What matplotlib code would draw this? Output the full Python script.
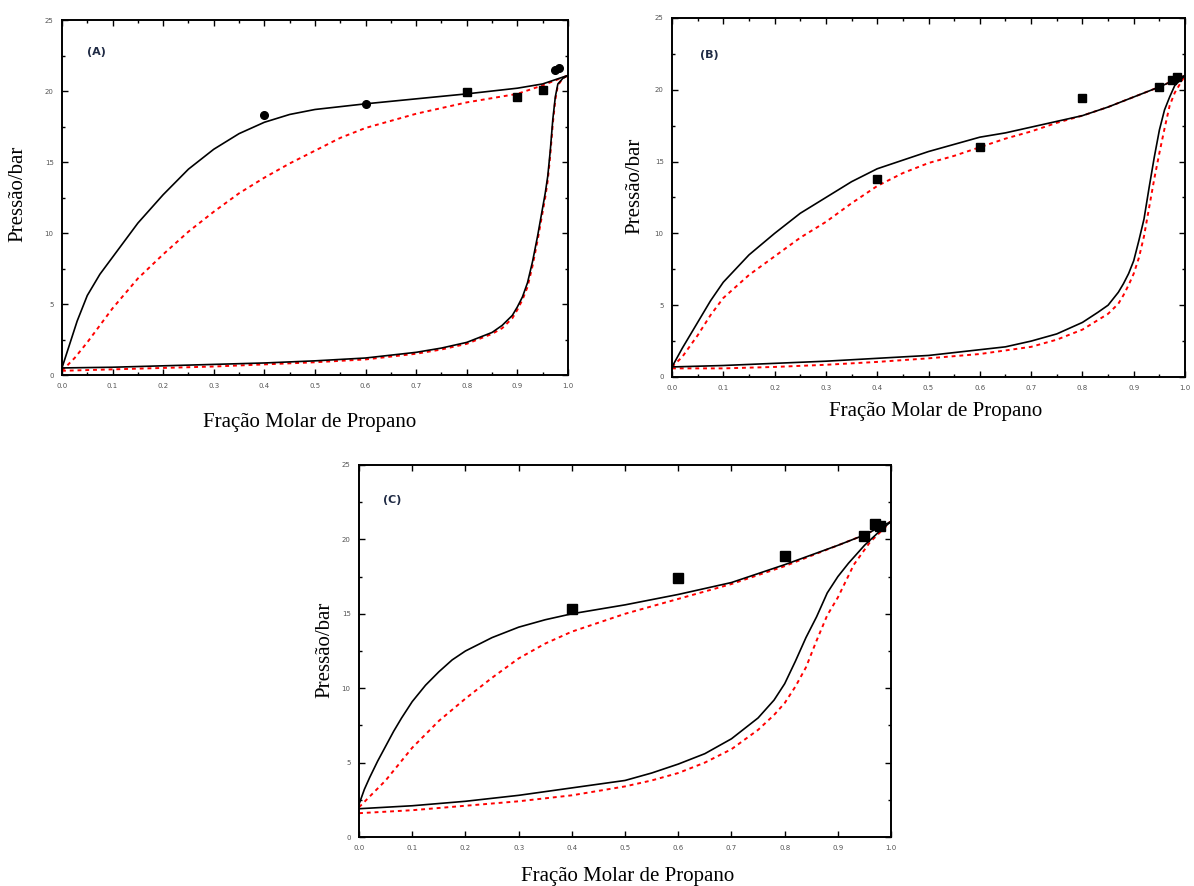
"""Diagramas P-x-y propano: tres paineis (A), (B), (C)"""

import matplotlib.pyplot as plt
import matplotlib.ticker as ticker

# ---------------- dados ----------------
# painel A
a_bub_x = [0, 0.01, 0.02, 0.03, 0.05, 0.075, 0.1, 0.15, 0.2, 0.25, 0.3, 0.35, 0.4, 0.45, 0.5, 0.6, 0.7, 0.8, 0.9, 0.95, 1.0]
a_bub_y = [0.5, 1.6, 2.7, 3.8, 5.6, 7.1, 8.3, 10.7, 12.7, 14.5, 15.9, 17.0, 17.8, 18.35, 18.7, 19.1, 19.45, 19.8, 20.2, 20.5, 21.1]
a_bub_red_x = [0, 0.025, 0.05, 0.1, 0.15, 0.2, 0.25, 0.3, 0.35, 0.4, 0.45, 0.5, 0.55, 0.6, 0.65, 0.7, 0.8, 0.9, 0.95, 1.0]
a_bub_red_y = [0.3, 1.2, 2.3, 4.7, 6.8, 8.5, 10.1, 11.5, 12.8, 13.9, 14.9, 15.8, 16.7, 17.4, 17.9, 18.4, 19.2, 19.8, 20.4, 21.1]
a_dew_x = [0, 0.1, 0.2, 0.3, 0.4, 0.5, 0.6, 0.7, 0.75, 0.8, 0.85, 0.87, 0.89, 0.9, 0.91, 0.92, 0.93, 0.94, 0.95, 0.955, 0.96, 0.965, 0.97, 0.975, 0.98, 0.99, 1.0]
a_dew_y = [0.5, 0.55, 0.65, 0.75, 0.85, 1.0, 1.2, 1.6, 1.9, 2.3, 3.0, 3.5, 4.2, 4.8, 5.5, 6.5, 8.0, 9.8, 11.8, 12.8, 14.0, 15.8, 18.0, 19.6, 20.5, 20.9, 21.1]
a_dew_red_x = [0, 0.1, 0.2, 0.3, 0.4, 0.5, 0.6, 0.7, 0.75, 0.8, 0.85, 0.87, 0.89, 0.9, 0.91, 0.92, 0.93, 0.94, 0.95, 0.955, 0.96, 0.965, 0.97, 0.975, 0.98, 0.99, 1.0]
a_dew_red_y = [0.3, 0.4, 0.5, 0.6, 0.75, 0.9, 1.1, 1.5, 1.8, 2.2, 2.9, 3.3, 4.0, 4.6, 5.3, 6.2, 7.7, 9.5, 11.5, 12.5, 13.7, 15.5, 17.7, 19.4, 20.4, 20.9, 21.1]
a_circ_x = [0.4, 0.6, 0.975, 0.982]
a_circ_y = [18.3, 19.1, 21.5, 21.6]
a_sq_x = [0.8, 0.9, 0.95]
a_sq_y = [19.9, 19.6, 20.1]

# painel B
b_bub_x = [0, 0.02, 0.05, 0.075, 0.1, 0.15, 0.2, 0.25, 0.3, 0.35, 0.4, 0.45, 0.5, 0.55, 0.6, 0.65, 0.7, 0.75, 0.8, 0.85, 0.9, 0.95, 1.0]
b_bub_y = [0.7, 2.0, 3.8, 5.3, 6.6, 8.5, 10.0, 11.4, 12.5, 13.6, 14.5, 15.1, 15.7, 16.2, 16.7, 17.0, 17.4, 17.8, 18.2, 18.8, 19.5, 20.2, 21.0]
b_bub_red_x = [0, 0.02, 0.05, 0.075, 0.1, 0.15, 0.2, 0.25, 0.3, 0.35, 0.4, 0.45, 0.5, 0.55, 0.6, 0.65, 0.7, 0.75, 0.8, 0.85, 0.9, 0.95, 1.0]
b_bub_red_y = [0.7, 1.4, 2.9, 4.3, 5.5, 7.1, 8.4, 9.7, 10.8, 12.1, 13.3, 14.2, 14.9, 15.4, 16.0, 16.6, 17.1, 17.7, 18.2, 18.8, 19.5, 20.2, 21.0]
b_dew_x = [0, 0.1, 0.2, 0.3, 0.4, 0.5, 0.6, 0.65, 0.7, 0.75, 0.8, 0.83, 0.85, 0.87, 0.88, 0.89, 0.9, 0.91, 0.92, 0.93, 0.94, 0.95, 0.96, 0.97, 0.98, 1.0]
b_dew_y = [0.7, 0.8, 0.95, 1.1, 1.3, 1.5, 1.9, 2.1, 2.5, 3.0, 3.8, 4.5, 5.0, 5.9, 6.5, 7.2, 8.1, 9.5, 11.0, 13.2, 15.3, 17.2, 18.6, 19.5, 20.3, 21.0]
b_dew_red_x = [0, 0.1, 0.2, 0.3, 0.4, 0.5, 0.6, 0.7, 0.75, 0.8, 0.85, 0.87, 0.88, 0.89, 0.9, 0.91, 0.92, 0.93, 0.94, 0.95, 0.96, 0.97, 0.98, 1.0]
b_dew_red_y = [0.6, 0.6, 0.7, 0.85, 1.05, 1.3, 1.6, 2.1, 2.6, 3.3, 4.4, 5.1, 5.7, 6.4, 7.2, 8.3, 9.8, 11.8, 13.8, 15.6, 17.3, 18.9, 19.8, 21.0]
b_sq_x = [0.4, 0.6, 0.8, 0.95, 0.975, 0.985]
b_sq_y = [13.8, 16.0, 19.4, 20.2, 20.7, 20.9]

# painel C
c_bub_x = [0, 0.01, 0.02, 0.035, 0.05, 0.065, 0.08, 0.1, 0.125, 0.15, 0.175, 0.2, 0.25, 0.3, 0.35, 0.4, 0.5, 0.6, 0.7, 0.8, 0.9, 0.95, 1.0]
c_bub_y = [2.2, 3.2, 4.0, 5.1, 6.1, 7.1, 8.0, 9.1, 10.2, 11.1, 11.9, 12.5, 13.4, 14.1, 14.6, 15.0, 15.6, 16.3, 17.1, 18.3, 19.6, 20.3, 21.2]
c_bub_red_x = [0, 0.025, 0.05, 0.075, 0.1, 0.15, 0.2, 0.25, 0.3, 0.35, 0.4, 0.45, 0.5, 0.6, 0.7, 0.8, 0.9, 0.95, 1.0]
c_bub_red_y = [2.0, 2.9, 3.8, 4.9, 6.0, 7.8, 9.3, 10.7, 12.0, 13.0, 13.8, 14.4, 15.0, 16.0, 17.0, 18.2, 19.6, 20.3, 21.2]
c_dew_x = [0, 0.1, 0.2, 0.3, 0.4, 0.5, 0.55, 0.6, 0.65, 0.7, 0.75, 0.78, 0.8, 0.82, 0.84, 0.86, 0.88, 0.9, 0.92, 0.95, 0.98, 1.0]
c_dew_y = [1.9, 2.1, 2.4, 2.8, 3.3, 3.8, 4.3, 4.9, 5.6, 6.6, 8.0, 9.2, 10.3, 11.8, 13.4, 14.8, 16.4, 17.5, 18.4, 19.6, 20.6, 21.2]
c_dew_red_x = [0, 0.1, 0.2, 0.3, 0.4, 0.5, 0.55, 0.6, 0.65, 0.7, 0.75, 0.78, 0.8, 0.82, 0.84, 0.86, 0.88, 0.9, 0.93, 0.96, 0.98, 1.0]
c_dew_red_y = [1.6, 1.8, 2.1, 2.4, 2.8, 3.4, 3.8, 4.3, 5.0, 5.9, 7.2, 8.2, 9.0, 10.1, 11.4, 13.2, 14.9, 16.1, 18.3, 19.8, 20.5, 21.2]
c_sq_x = [0.4, 0.6, 0.8, 0.95, 0.97, 0.98]
c_sq_y = [15.3, 17.4, 18.9, 20.2, 21.0, 20.9]

XLABEL = "Fração Molar de Propano"
YLABEL = "Pressão/bar"


def style_axes(ax, minor_x=True):
    ax.set_xlim(0, 1)
    ax.set_ylim(0, 25)
    ax.xaxis.set_major_locator(ticker.MultipleLocator(0.1))
    if minor_x:
        ax.xaxis.set_minor_locator(ticker.MultipleLocator(0.05))
    ax.yaxis.set_major_locator(ticker.MultipleLocator(5))
    ax.yaxis.set_minor_locator(ticker.MultipleLocator(2.5))
    ax.xaxis.set_major_formatter(ticker.FormatStrFormatter("%.1f"))
    ax.yaxis.set_major_formatter(ticker.FormatStrFormatter("%d"))
    ax.tick_params(which="both", direction="in", top=True, right=True,
                   labelsize=5, labelcolor="#555555", width=1.0)
    ax.tick_params(which="major", length=4, pad=6)
    ax.tick_params(which="minor", length=2)
    for s in ax.spines.values():
        s.set_linewidth(1.4)


def draw_lines(ax, bx, by, brx, bry, dx, dy, drx, dry):
    ax.plot(brx, bry, color="red", lw=1.4, ls=(0, (2, 2)))
    ax.plot(drx, dry, color="red", lw=1.4, ls=(0, (2, 2)))
    ax.plot(bx, by, color="black", lw=1.2)
    ax.plot(dx, dy, color="black", lw=1.2)


def panel_tag(ax, txt, x, y):
    ax.text(x, y, txt, transform=ax.transAxes, fontsize=8, fontweight="bold",
            color="#1f2a44", family="DejaVu Sans", va="center")


fig = plt.figure(figsize=(11.94, 8.86), dpi=100)
serif = ["Liberation Serif", "DejaVu Serif"]

# (A)
axA = fig.add_axes([0.0519, 0.5767, 0.4238, 0.4007])
draw_lines(axA, a_bub_x, a_bub_y, a_bub_red_x, a_bub_red_y,
           a_dew_x, a_dew_y, a_dew_red_x, a_dew_red_y)
axA.plot(a_circ_x, a_circ_y, "o", color="black", ms=5.5)
axA.plot(a_sq_x, a_sq_y, "s", color="black", ms=5.5)
style_axes(axA)
panel_tag(axA, "(A)", 0.05, 0.91)
fig.text(18 / 1194, 1 - 194 / 886, YLABEL, rotation=90, ha="center", va="center",
         fontsize=15, family=serif)
fig.text(310 / 1194, 1 - 422 / 886, XLABEL, ha="center", va="center",
         fontsize=15, family=serif)

# (B)
axB = fig.add_axes([0.5628, 0.5745, 0.4297, 0.4052])
draw_lines(axB, b_bub_x, b_bub_y, b_bub_red_x, b_bub_red_y,
           b_dew_x, b_dew_y, b_dew_red_x, b_dew_red_y)
axB.plot(b_sq_x, b_sq_y, "s", color="black", ms=6)
style_axes(axB)
panel_tag(axB, "(B)", 0.055, 0.897)
fig.text(635 / 1194, 1 - 186 / 886, YLABEL, rotation=90, ha="center", va="center",
         fontsize=15, family=serif)
fig.text(936 / 1194, 1 - 412 / 886, XLABEL, ha="center", va="center",
         fontsize=15, family=serif)

# (C)
axC = fig.add_axes([0.3007, 0.0553, 0.4456, 0.4199])
draw_lines(axC, c_bub_x, c_bub_y, c_bub_red_x, c_bub_red_y,
           c_dew_x, c_dew_y, c_dew_red_x, c_dew_red_y)
axC.plot(c_sq_x, c_sq_y, "s", color="black", ms=6.5)
style_axes(axC, minor_x=False)
panel_tag(axC, "(C)", 0.045, 0.906)
fig.text(325 / 1194, 1 - 650 / 886, YLABEL, rotation=90, ha="center", va="center",
         fontsize=15, family=serif)
fig.text(628 / 1194, 1 - 876 / 886, XLABEL, ha="center", va="center",
         fontsize=15, family=serif)

fig.savefig("out.png", dpi=100)
